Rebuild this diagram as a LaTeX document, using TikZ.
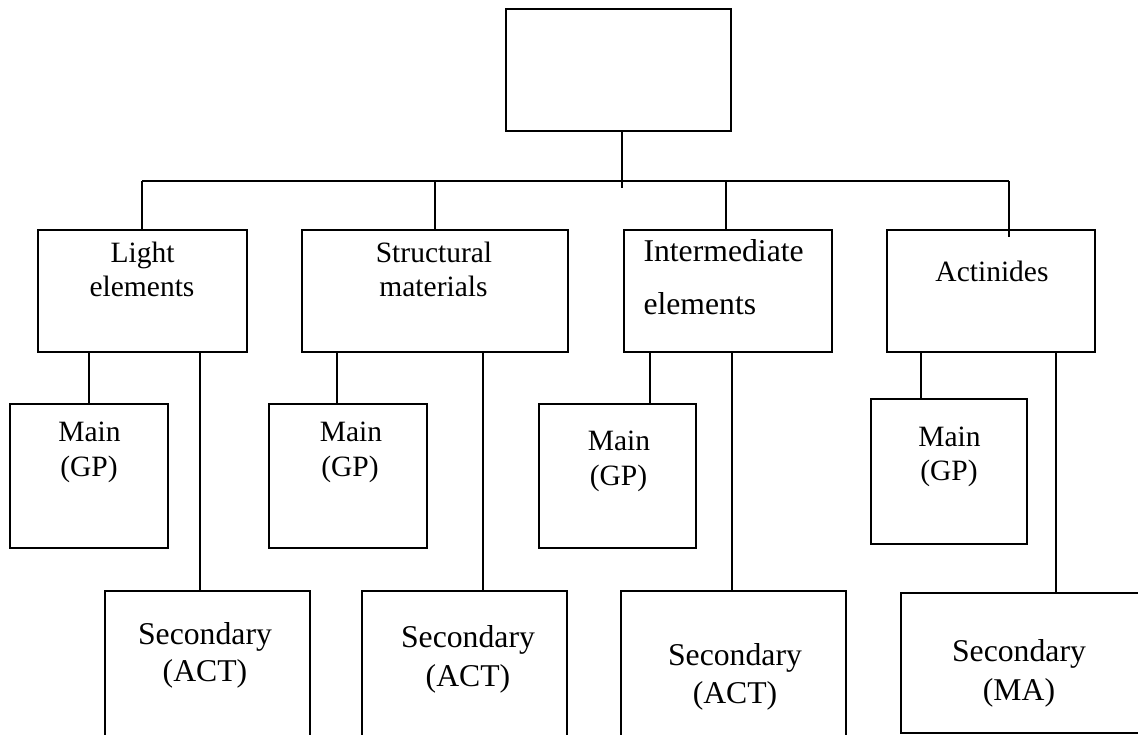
\documentclass[tikz,border=0pt]{standalone}
\usepackage{fontspec}
\setmainfont{Liberation Serif}
\begin{document}
\begin{tikzpicture}[x=1pt,y=-1pt,line width=2pt,
  box/.style={draw,rectangle,inner sep=0pt,outer sep=0pt,line width=2pt},
  lbl/.style={anchor=base,inner sep=0pt,font=\fontsize{29.5}{34}\selectfont},
  lblb/.style={anchor=base,inner sep=0pt,font=\fontsize{31.7}{36}\selectfont}]
\useasboundingbox (0,0) rectangle (1138,735);
\clip (0,0) rectangle (1138,735);
% boxes
\node[box,minimum width=225pt,minimum height=122pt] (top) at (618.5,70) {};
\node[box,minimum width=209pt,minimum height=122pt] (light) at (142.5,291) {};
\node[box,minimum width=266pt,minimum height=122pt] (struct) at (435,291) {};
\node[box,minimum width=208pt,minimum height=122pt] (inter) at (728,291) {};
\node[box,minimum width=208pt,minimum height=122pt] (act) at (991,291) {};
\node[box,minimum width=158pt,minimum height=144pt] (main1) at (89,476) {};
\node[box,minimum width=158pt,minimum height=144pt] (main2) at (348,476) {};
\node[box,minimum width=157pt,minimum height=144pt] (main3) at (617.5,476) {};
\node[box,minimum width=156pt,minimum height=145pt] (main4) at (949,471.5) {};
\node[box,minimum width=205pt,minimum height=160pt] (sec1) at (207.5,671) {};
\node[box,minimum width=205pt,minimum height=160pt] (sec2) at (464.5,671) {};
\node[box,minimum width=225pt,minimum height=160pt] (sec3) at (733.5,671) {};
\node[box,minimum width=259pt,minimum height=140pt] (sec4) at (1030.5,663) {};
% texts
\node[lbl] (t1a) at (142.5,263) {Light};
\node[lbl] (t1b) at (142,297) {elements};
\node[lbl] (t2a) at (434,263) {Structural};
\node[lbl] (t2b) at (433.5,297) {materials};
\node[lblb,anchor=base west] (t3a) at (642.5,261.7) {Intermediate};
\node[lblb,anchor=base west] (t3b) at (642.5,315) {elements};
\node[lbl] (t4) at (992,281.7) {Actinides};
\node[lbl] (m1a) at (89.5,441.7) {Main};
\node[lbl] (m1b) at (89,476.5) {(GP)};
\node[lbl] (m2a) at (351,441) {Main};
\node[lbl] (m2b) at (350,476) {(GP)};
\node[lbl] (m3a) at (619,450) {Main};
\node[lbl] (m3b) at (618.5,485) {(GP)};
\node[lbl] (m4a) at (949.5,446) {Main};
\node[lbl] (m4b) at (949,480) {(GP)};
\node[lblb] (s1a) at (205,644.3) {Secondary};
\node[lblb] (s1b) at (205,681.7) {(ACT)};
\node[lblb] (s2a) at (468,647.7) {Secondary};
\node[lblb] (s2b) at (468,686.7) {(ACT)};
\node[lblb] (s3a) at (735,665) {Secondary};
\node[lblb] (s3b) at (735,703.3) {(ACT)};
\node[lblb] (s4a) at (1019,661.7) {Secondary};
\node[lblb] (s4b) at (1019,700) {(MA)};
% connector points
\coordinate (hub) at (622,188);
\coordinate (bus) at (0,181);
\coordinate (d1) at (142,230);
\coordinate (d3) at (726,230);
\coordinate (adrop) at (1009,237);
\coordinate (c1s) at (89,404);
\coordinate (c1l) at (200,591);
\coordinate (c2s) at (337,404);
\coordinate (c2l) at (483,591);
\coordinate (c3s) at (650,404);
\coordinate (c3l) at (732,591);
\coordinate (c4s) at (921,399);
\coordinate (c4l) at (1056,593);
% connectors
\draw (top.south -| hub) -- (hub);
\draw (d1 |- bus) -- (adrop |- bus);
\draw (d1) -- (d1 |- bus);
\draw (struct.north) -- (struct.north |- bus);
\draw (d3) -- (d3 |- bus);
\draw (adrop) -- (adrop |- bus);
\draw (c1s) -- (c1s |- light.south);
\draw (c1l) -- (c1l |- light.south);
\draw (c2s) -- (c2s |- struct.south);
\draw (c2l) -- (c2l |- struct.south);
\draw (c3s) -- (c3s |- inter.south);
\draw (c3l) -- (c3l |- inter.south);
\draw (c4s) -- (c4s |- act.south);
\draw (c4l) -- (c4l |- act.south);
\end{tikzpicture}
\end{document}
